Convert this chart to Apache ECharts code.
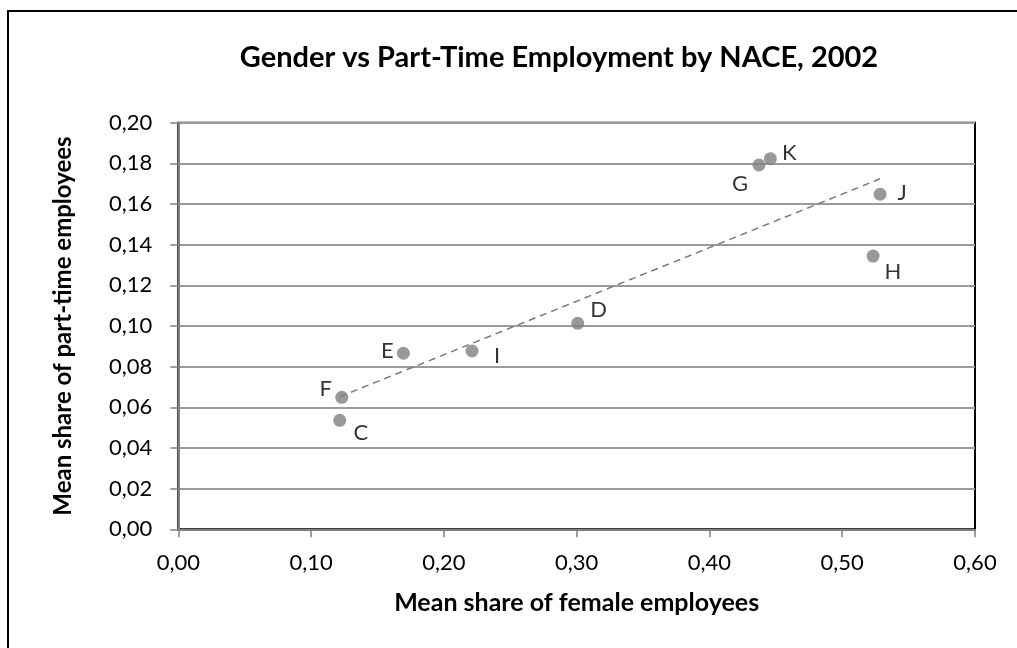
<!DOCTYPE html>
<html>
<head>
<meta charset="utf-8">
<script src="https://cdn.jsdelivr.net/npm/echarts@6/dist/echarts.min.js"></script>
<style>
  html, body { margin: 0; padding: 0; background: #fff; overflow: hidden; }
  #chart { width: 1017px; height: 648px; }
</style>
</head>
<body>
<div id="chart"></div>
<script>
// NACE sectors
var sectors = ['C', 'F', 'E', 'I', 'D', 'G', 'K', 'H', 'J'];
var femaleShare = [0.1216, 0.1231, 0.1695, 0.2212, 0.3008, 0.4373, 0.4459, 0.5232, 0.5285];
var partTimeShare = [0.0536, 0.0649, 0.0866, 0.0877, 0.1013, 0.1792, 0.1823, 0.1344, 0.1648];

// linear trend line end points
var trendX = [0.1216, 0.5285];
var trendY = [0.0652, 0.1724];

// where each point label sits, relative to the marker
var labelOffset = {
  C: [21, 13], F: [-16, -8], E: [-16, -2], I: [25, 5], D: [21, -13],
  G: [-19, 19], K: [19, -6], H: [20, 16], J: [22, -1]
};

var FONT = 'Lato, "Open Sans", sans-serif';
var GREY = '#808080';

function comma(v) {
  return v.toFixed(2).replace('.', ',');
}

var points = sectors.map(function (s, i) {
  return {
    name: s,
    value: [femaleShare[i], partTimeShare[i]],
    label: { offset: labelOffset[s] }
  };
});

var chart = echarts.init(document.getElementById('chart'));

chart.setOption({
  animation: false,
  backgroundColor: '#fff',
  title: {
    text: 'Gender vs Part-Time Employment by NACE, 2002',
    left: 554,
    top: 38,
    textAlign: 'center',
    textStyle: { fontFamily: FONT, fontWeight: 'bold', fontSize: 29, color: '#000' }
  },
  graphic: [
    {
      type: 'polyline',
      shape: { points: [[8, 660], [8, 11], [1030, 11]] },
      style: { stroke: '#000', lineWidth: 2, fill: null }
    }
  ],
  grid: {
    left: 178.3,
    top: 122.7,
    right: 42,
    bottom: 118.7,
    show: true,
    borderColor: '#000',
    borderWidth: 2
  },
  xAxis: {
    type: 'value',
    min: 0,
    max: 0.6,
    interval: 0.1,
    name: 'Mean share of female employees',
    nameLocation: 'middle',
    nameGap: 61,
    nameTextStyle: { fontFamily: FONT, fontWeight: 'bold', fontSize: 25, color: '#000' },
    axisLine: { lineStyle: { color: GREY, width: 2 } },
    axisTick: { show: true, length: 8, lineStyle: { color: GREY, width: 1.5 } },
    axisLabel: { formatter: comma, margin: 23, fontFamily: FONT, fontSize: 22, color: '#000' },
    splitLine: { show: false }
  },
  yAxis: {
    type: 'value',
    min: 0,
    max: 0.2,
    interval: 0.02,
    name: 'Mean share of part-time employees',
    nameLocation: 'middle',
    nameGap: 103,
    nameRotate: 90,
    nameTextStyle: { fontFamily: FONT, fontWeight: 'bold', fontSize: 24, color: '#000' },
    axisLine: { show: true, lineStyle: { color: GREY, width: 2 } },
    axisTick: { show: true, length: 8, lineStyle: { color: GREY, width: 1.5 } },
    axisLabel: { formatter: comma, margin: 26, fontFamily: FONT, fontSize: 22, color: '#000' },
    splitLine: { show: true, lineStyle: { color: '#9a9a9a', width: 2 } }
  },
  series: [
    {
      type: 'line',
      data: trendX.map(function (x, i) { return [x, trendY[i]]; }),
      showSymbol: false,
      lineStyle: { color: '#7a7a7a', width: 1.5, type: [7, 5] },
      z: 2
    },
    {
      type: 'scatter',
      data: points,
      symbol: 'circle',
      symbolSize: 13,
      itemStyle: { color: GREY },
      label: {
        show: true,
        position: 'inside',
        formatter: '{b}',
        fontFamily: FONT,
        fontSize: 22,
        color: '#000'
      },
      z: 3
    }
  ]
});
</script>
</body>
</html>
